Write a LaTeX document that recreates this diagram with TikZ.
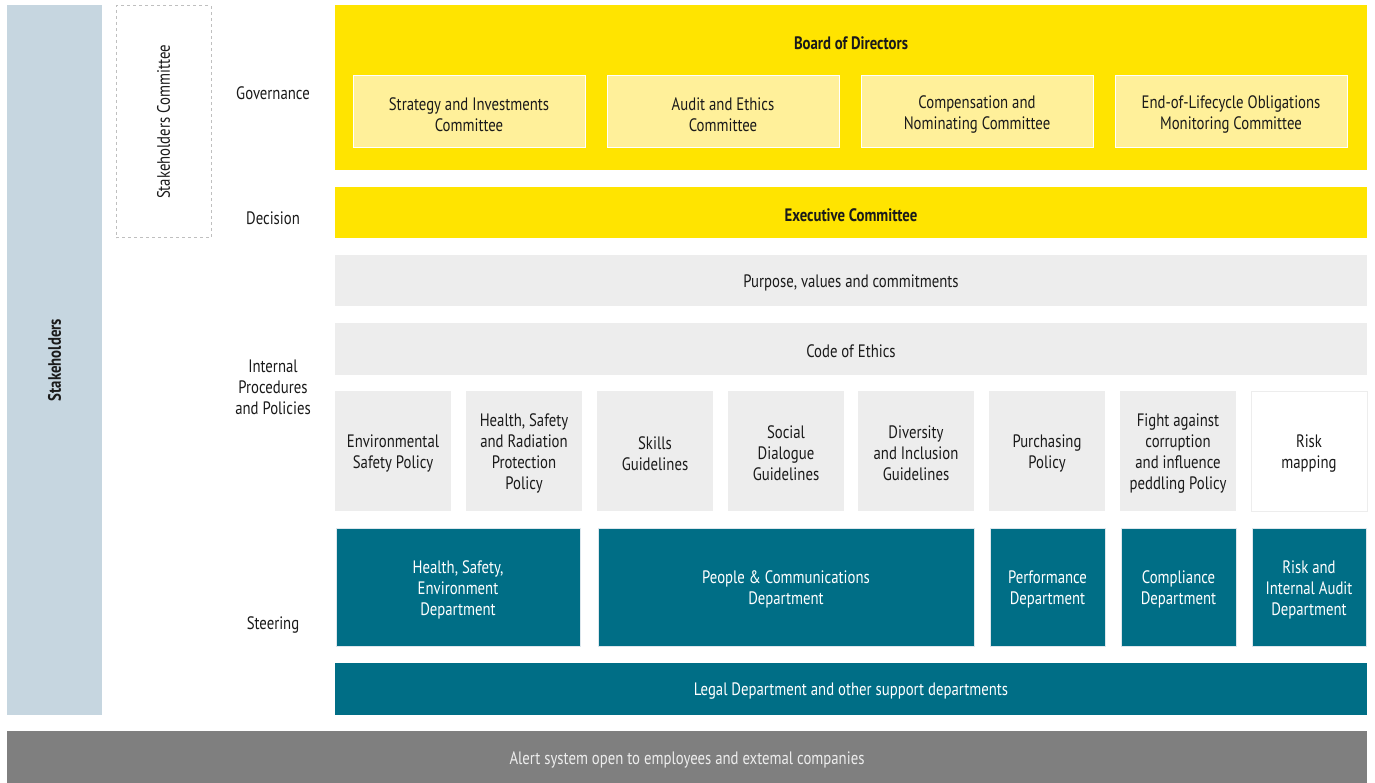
\documentclass[tikz,border=0pt]{standalone}
\usepackage{fontspec}
\setmainfont[FakeStretch=0.82]{PT Sans}
\definecolor{yel}{HTML}{FFE400}
\definecolor{lyel}{HTML}{FFF09A}
\definecolor{lgray}{HTML}{EDEDED}
\definecolor{teal}{HTML}{006E86}
\definecolor{stk}{HTML}{C6D6E0}
\definecolor{alertg}{HTML}{7F7F7F}
\definecolor{txt}{HTML}{1A1A1A}
\tikzset{
  base/.style={inner sep=0pt, outer sep=0pt, align=center, text=txt,
    font=\fontsize{18}{21}\selectfont},
  yelbox/.style={base, fill=yel},
  combox/.style={base, fill=lyel, draw=white, line width=1pt},
  graybox/.style={base, fill=lgray},
  whitebox/.style={base, fill=white, draw=lgray, line width=1pt},
  tealbox/.style={base, fill=teal, draw=stk!60, line width=0.6pt, text=white},
  lbl/.style={inner sep=0pt, align=center, text=txt, font=\fontsize{18}{21}\selectfont},
}
\newcommand\mybox[7]{\node[#2, minimum width={(#5-#3)*1pt}, minimum height={(#6-#4)*1pt}] (#1) at ({(#3+#5)/2},{(#4+#6)/2}) {};
  \node[#2, draw=none, fill=none] (#1t) at ([yshift=-2.5pt]#1.center) {#7};}
\begin{document}
\begin{tikzpicture}[x=1pt,y=-1pt]
\useasboundingbox (0,0) rectangle (1375,783);
% left bars
\mybox{stake}{base, fill=stk}{7}{5}{102}{715}{}
\node[lbl, rotate=90, font=\fontsize{18}{21}\selectfont\bfseries] (stakelbl) at (stake.center) {Stakeholders};
\mybox{stcom}{base, draw=black!25, dashed, line width=1pt}{116}{6}{211}{238}{}
\node[lbl, rotate=90] (stcomlbl) at (stcom.center) {Stakeholders Committee};
% row labels
\node[lbl] (gov) at (273,93) {Governance};
\node[lbl] (dec) at (273,218) {Decision};
\node[lbl] (ipp) at (273,387) {Internal\\Procedures\\and Policies};
\node[lbl] (ste) at (273,625) {Steering};
% board
\mybox{board}{yelbox}{335}{5}{1367}{170}{}
\node[lbl, font=\fontsize{18}{21}\selectfont\bfseries] (boardlbl) at (851,43) {Board of Directors};
\mybox{c1}{combox}{353}{76}{585}{148}{Strategy and Investments\\Committee}
\mybox{c2}{combox}{607}{76}{839}{148}{Audit and Ethics\\Committee}
\mybox{c3}{combox}{861}{76}{1093}{148}{Compensation and\\Nominating Committee}
\mybox{c4}{combox}{1115}{76}{1347}{148}{End-of-Lifecycle Obligations\\Monitoring Committee}
% exec
\mybox{exec}{yelbox, font=\fontsize{18}{21}\selectfont\bfseries}{335}{187}{1367}{238}{Executive Committee}
\mybox{purp}{graybox}{335}{255}{1367}{306}{Purpose, values and commitments}
\mybox{code}{graybox}{335}{323}{1367}{375}{Code of Ethics}
% policies
\mybox{p1}{graybox}{335}{391}{451}{511}{Environmental\\Safety Policy}
\mybox{p2}{graybox}{466}{391}{582}{511}{Health, Safety\\and Radiation\\Protection\\Policy}
\mybox{p3}{graybox}{597}{391}{713}{511}{Skills\\Guidelines}
\mybox{p4}{graybox}{728}{391}{844}{511}{Social\\Dialogue\\Guidelines}
\mybox{p5}{graybox}{858}{391}{974}{511}{Diversity\\and Inclusion\\Guidelines}
\mybox{p6}{graybox}{989}{391}{1105}{511}{Purchasing\\Policy}
\mybox{p7}{graybox}{1120}{391}{1236}{511}{Fight against\\corruption\\and influence\\peddling Policy}
\mybox{p8}{whitebox}{1251}{391}{1367}{511}{Risk\\mapping}
% steering
\mybox{s1}{tealbox}{336}{528}{580}{646}{Health, Safety,\\Environment\\Department}
\mybox{s2}{tealbox}{598}{528}{974}{646}{People \& Communications\\Department}
\mybox{s3}{tealbox}{990}{528}{1105}{646}{Performance\\Department}
\mybox{s4}{tealbox}{1121}{528}{1236}{646}{Compliance\\Department}
\mybox{s5}{tealbox}{1252}{528}{1366}{646}{Risk and\\Internal Audit\\Department}
\mybox{legal}{base, fill=teal, text=white}{335}{663}{1367}{715}{Legal Department and other support departments}
% alert
\mybox{alert}{base, fill=alertg, text=lgray}{7}{731}{1367}{783}{Alert system open to employees and extemal companies}
\end{tikzpicture}
\end{document}
